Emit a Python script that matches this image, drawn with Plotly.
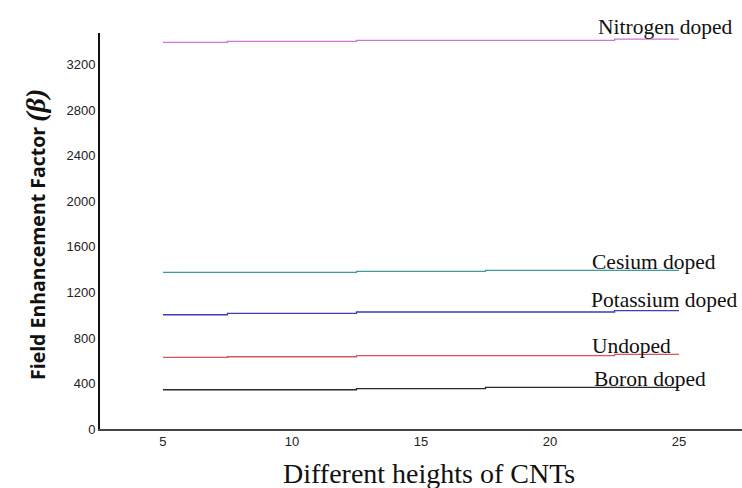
import plotly.graph_objects as go

heights = [5, 10, 15, 20, 25]
nitrogen = [3397, 3406, 3415, 3415, 3427]
cesium = [1376, 1376, 1385, 1394, 1394]
potassium = [1004, 1016, 1028, 1028, 1040]
undoped = [629, 635, 644, 644, 656]
boron = [345, 345, 354, 365, 365]

series = [
    ("Nitrogen doped", nitrogen, "#d173d8"),
    ("Cesium doped", cesium, "#3f9c9a"),
    ("Potassium doped", potassium, "#3d3db5"),
    ("Undoped", undoped, "#d45858"),
    ("Boron doped", boron, "#2a2a2a"),
]
# label centres in pixels (x, y from top)
label_px = {"Nitrogen doped": (665, 27), "Cesium doped": (654, 262),
            "Potassium doped": (664, 300), "Undoped": (631, 346),
            "Boron doped": (650, 379)}

W, H = 742, 488
L, R, T, B = 100, 0, 33, 59
pw, ph = W - L - R, H - T - B

fig = go.Figure()
for name, vals, col in series:
    fig.add_trace(go.Scatter(x=heights, y=vals, mode="lines",
                             line=dict(color=col, width=1.3, shape="hvh"),
                             name=name, showlegend=False))

for name, vals, col in series:
    px, py = label_px[name]
    fig.add_annotation(x=(px - L) / pw, y=(H - B - py) / ph, xref="paper", yref="paper",
                       text=name, showarrow=False, xanchor="center", yanchor="middle",
                       font=dict(family="Liberation Serif", size=21.5, color="#111"))

fig.add_annotation(xref="paper", yref="paper", x=(429 - L) / pw, y=-(474 - (H - B)) / ph, yanchor="middle",
                   text="Different heights of CNTs", showarrow=False,
                   font=dict(family="Liberation Serif", size=28, color="#111"))
fig.add_annotation(xref="paper", yref="paper", x=(35 - L) / pw, y=(H - B - 235) / ph,
                   xanchor="center", yanchor="middle", textangle=-90, showarrow=False,
                   text="<b>Field Enhancement Factor </b><span style='font-family:Liberation Serif;font-size:28px'><b><i>(β)</i></b></span>",
                   font=dict(family="Open Sans", size=19.5, color="#111"))

fig.update_layout(
    width=W, height=H,
    margin=dict(l=L, r=R, t=T, b=B),
    paper_bgcolor="white", plot_bgcolor="white",
    xaxis=dict(range=[2.56, 27.44], tickvals=[5, 10, 15, 20, 25], showgrid=False, zeroline=False,
               showline=True, linecolor="#444", linewidth=1.5, ticks="",
               tickfont=dict(family="Liberation Sans", size=13, color="#222")),
    yaxis=dict(range=[0, 3480], tickvals=[0, 400, 800, 1200, 1600, 2000, 2400, 2800, 3200],
               showgrid=False, zeroline=False, showline=True, linecolor="#111", linewidth=2, ticks="",
               tickfont=dict(family="Liberation Sans", size=13, color="#222")),
)
fig.write_html("out.html", config={"displayModeBar": False},
               post_script="document.body.style.margin='0px';document.body.style.overflow='hidden';")
